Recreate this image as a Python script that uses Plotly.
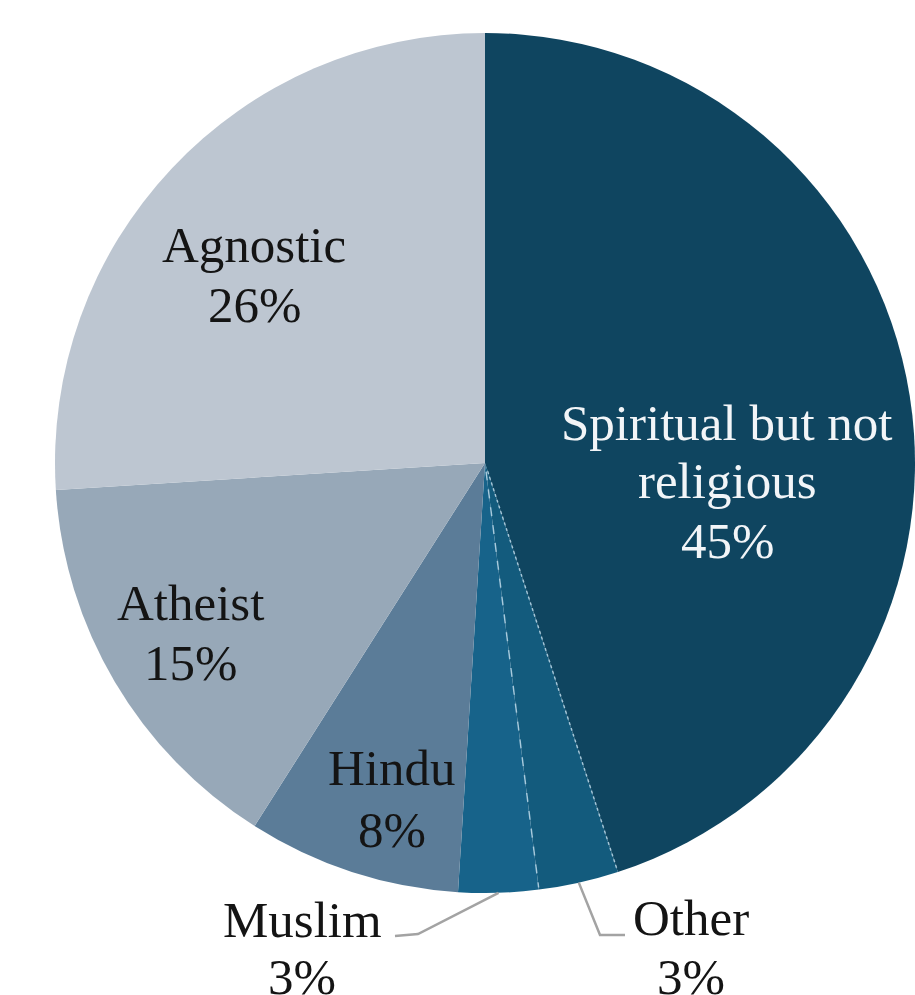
import math
import plotly.graph_objects as go

# Religious identity breakdown (percent of respondents)
categories = ["Spiritual but not religious", "Other", "Muslim", "Hindu", "Atheist", "Agnostic"]
shares = [45, 3, 3, 8, 15, 26]
label_lines = [
    ["Spiritual but not", "religious", "45%"],
    ["Other", "3%"],
    ["Muslim", "3%"],
    ["Hindu", "8%"],
    ["Atheist", "15%"],
    ["Agnostic", "26%"],
]

colors = ["#0F4560", "#135B7D", "#17638A", "#5B7C98", "#97A8B8", "#BDC6D1"]

W, H = 915, 995
CX, CY, R = 485, 463, 430  # pie centre / radius in pixels


def px(x):
    return x / W


def py(y):
    return 1 - y / H


fig = go.Figure(
    go.Pie(
        labels=categories,
        values=shares,
        sort=False,
        direction="clockwise",
        rotation=0,
        marker=dict(colors=colors, line=dict(width=0)),
        textinfo="none",
        hoverinfo="label+percent",
        showlegend=False,
        domain=dict(x=[px(CX - R), min(1.0, px(CX + R))], y=[py(CY + R), py(CY - R)]),
    )
)

# slice boundary angles (clockwise from 12 o'clock)
total = sum(shares)
bounds = [0.0]
for v in shares:
    bounds.append(bounds[-1] + 360.0 * v / total)


def edge_point(deg, frac=1.0):
    a = math.radians(deg)
    return CX + frac * R * math.sin(a), CY - frac * R * math.cos(a)


shapes = []
# faint separators between the small dark slices
for deg, dash in [(bounds[1], "dot"), (bounds[2], "dash")]:
    x1, y1 = edge_point(deg, 0.02)
    x2, y2 = edge_point(deg, 0.995)
    shapes.append(dict(type="line", xref="paper", yref="paper",
                       x0=px(x1), y0=py(y1), x1=px(x2), y1=py(y2),
                       line=dict(color="rgba(200,225,240,0.75)", width=1.5, dash=dash)))

# leader lines for the small outside labels
leader = {
    1: [(600, 935), (625, 935)],
    2: [(418, 934), (395, 936)],
}
for i, pts in leader.items():
    mid = (bounds[i] + bounds[i + 1]) / 2
    sx, sy = edge_point(mid, 1.0)
    path_pts = [(sx, sy)] + pts
    path = "M " + " L ".join(f"{px(x):.5f},{py(y):.5f}" for x, y in path_pts)
    shapes.append(dict(type="path", xref="paper", yref="paper", path=path,
                       line=dict(color="#A3A3A3", width=2.5)))

# label anchors (pixel centre of each text line)
label_pos = {
    0: (727, [423, 481, 541]),
    1: (691, [918, 977]),
    2: (302, [920, 977]),
    3: (392, [768, 830]),
    4: (190, [603, 663]),
    5: (254, [245, 305]),
}
annotations = []
for i, lines in enumerate(label_lines):
    x, ys = label_pos[i]
    color = "#F2F5F8" if i == 0 else "#141414"
    for text, y in zip(lines, ys):
        annotations.append(dict(
            x=px(x), y=py(y), xref="paper", yref="paper",
            text=text, showarrow=False, xanchor="center", yanchor="middle",
            font=dict(family="Liberation Serif, Times New Roman, serif", size=51, color=color),
        ))

fig.update_layout(
    width=W, height=H,
    margin=dict(l=0, r=0, t=0, b=0),
    paper_bgcolor="white",
    plot_bgcolor="white",
    shapes=shapes,
    annotations=annotations,
)

fig.write_html("out.html")
